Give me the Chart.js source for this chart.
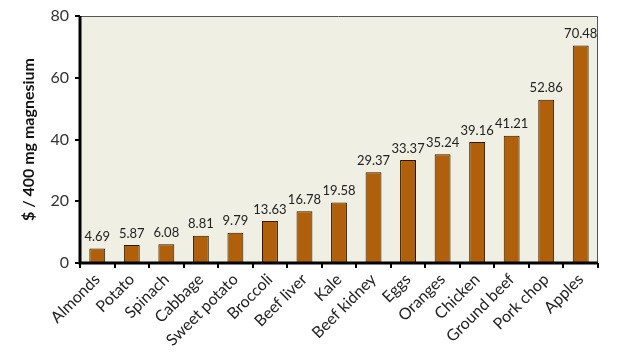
<!DOCTYPE html>
<html>
<head>
<meta charset="utf-8">
<script src="https://cdn.jsdelivr.net/npm/chart.js@4.4.1/dist/chart.umd.min.js"></script>
<style>
  html, body { margin: 0; padding: 0; background: #fff; }
  #wrap { width: 618px; height: 361px; }
</style>
</head>
<body>
<div id="wrap"><canvas id="c" width="618" height="361"></canvas></div>
<script>
// data
var foods = ['Almonds', 'Potato', 'Spinach', 'Cabbage', 'Sweet potato', 'Broccoli', 'Beef liver',
  'Kale', 'Beef kidney', 'Eggs', 'Oranges', 'Chicken', 'Ground beef', 'Pork chop', 'Apples'];
var costPer400mg = [4.69, 5.87, 6.08, 8.81, 9.79, 13.63, 16.78, 19.58, 29.37, 33.37, 35.24, 39.16, 41.21, 52.86, 70.48];
var yTicks = [0, 20, 40, 60, 80];

var FONT = 'Lato, "Open Sans", sans-serif';

// plot background + frame
var plotFrame = {
  id: 'plotFrame',
  beforeDraw: function(chart) {
    var a = chart.chartArea, ctx = chart.ctx;
    ctx.save();
    ctx.fillStyle = '#efefe3';
    ctx.fillRect(a.left, a.top, a.right - a.left, a.bottom - a.top);
    ctx.restore();
  },
  afterDatasetsDraw: function(chart) {
    var a = chart.chartArea, ctx = chart.ctx;
    ctx.save();
    ctx.strokeStyle = '#555';
    ctx.lineWidth = 1;
    ctx.beginPath();
    ctx.moveTo(a.left, a.top + 0.5);
    ctx.lineTo(a.right - 0.5, a.top + 0.5);
    ctx.lineTo(a.right - 0.5, a.bottom);
    ctx.stroke();
    ctx.strokeStyle = '#000';
    ctx.lineWidth = 3;
    ctx.beginPath();
    ctx.moveTo(a.left, a.top);
    ctx.lineTo(a.left, a.bottom);
    ctx.lineTo(a.right, a.bottom);
    ctx.stroke();
    ctx.restore();
  }
};

// value labels above bars
var valueLabels = {
  id: 'valueLabels',
  afterDatasetsDraw: function(chart) {
    var ctx = chart.ctx;
    var meta = chart.getDatasetMeta(0);
    ctx.save();
    ctx.font = '13px ' + FONT;
    ctx.fillStyle = '#222';
    ctx.textAlign = 'center';
    ctx.textBaseline = 'bottom';
    meta.data.forEach(function(bar, i) {
      ctx.fillText(costPer400mg[i].toFixed(2), bar.x, bar.y - 5);
    });
    ctx.restore();
  }
};

new Chart(document.getElementById('c').getContext('2d'), {
  type: 'bar',
  data: {
    labels: foods,
    datasets: [{
      data: costPer400mg,
      backgroundColor: '#b0600b',
      borderColor: '#2a1800',
      borderWidth: 1,
      barPercentage: 0.46,
      categoryPercentage: 1
    }]
  },
  options: {
    responsive: false,
    animation: false,
    layout: { padding: { top: 16, right: 20, left: 19, bottom: 0 } },
    plugins: {
      legend: { display: false },
      tooltip: { enabled: false }
    },
    scales: {
      x: {
        afterFit: function(axis) { axis.height = 98; },
        grid: { offset: true, drawOnChartArea: false, drawTicks: true, tickLength: 5, color: '#000', lineWidth: 2 },
        border: { display: false },
        ticks: {
          color: '#222',
          font: { family: FONT, size: 16 },
          minRotation: 45,
          maxRotation: 45,
          autoSkip: false,
          padding: 2
        }
      },
      y: {
        min: 0,
        max: 80,
        afterFit: function(axis) { axis.width = 61; },
        afterBuildTicks: function(axis) {
          axis.ticks = yTicks.map(function(v) { return { value: v }; });
        },
        grid: { drawOnChartArea: false, drawTicks: true, tickLength: 5, color: '#000', lineWidth: 2 },
        border: { display: false },
        ticks: {
          color: '#333',
          font: { family: FONT, size: 16 },
          padding: 6
        },
        title: {
          display: true,
          text: '$ / 400 mg magnesium',
          color: '#111',
          font: { family: FONT, size: 16, weight: 'bold' },
          padding: { top: 0, bottom: 4 }
        }
      }
    }
  },
  plugins: [plotFrame, valueLabels]
});
</script>
</body>
</html>
